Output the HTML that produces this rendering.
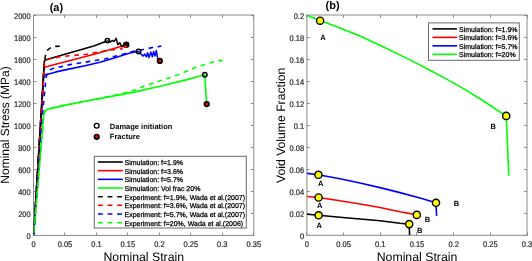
<!DOCTYPE html>
<html><head><meta charset="utf-8"><style>
html,body{margin:0;padding:0;background:#fff;width:532px;height:261px;overflow:hidden}
svg{display:block;will-change:transform} text{text-rendering:geometricPrecision}
</style></head><body>
<svg width="532" height="261" viewBox="0 0 532 261">
<g font-family='"Liberation Sans", sans-serif'>
<rect x="33.5" y="15.0" width="220.3" height="220.4" fill="none" stroke="#8a8a8a" stroke-width="1"/>
<path d="M33.5 235.4v-2.8M33.5 15.0v2.8M64.5 235.4v-2.8M64.5 15.0v2.8M96.5 235.4v-2.8M96.5 15.0v2.8M127.5 235.4v-2.8M127.5 15.0v2.8M159.5 235.4v-2.8M159.5 15.0v2.8M190.5 235.4v-2.8M190.5 15.0v2.8M222.5 235.4v-2.8M222.5 15.0v2.8M253.5 235.4v-2.8M253.5 15.0v2.8M33.5 235.5h2.8M253.8 235.5h-2.8M33.5 213.5h2.8M253.8 213.5h-2.8M33.5 191.5h2.8M253.8 191.5h-2.8M33.5 169.5h2.8M253.8 169.5h-2.8M33.5 147.5h2.8M253.8 147.5h-2.8M33.5 125.5h2.8M253.8 125.5h-2.8M33.5 103.5h2.8M253.8 103.5h-2.8M33.5 81.5h2.8M253.8 81.5h-2.8M33.5 59.5h2.8M253.8 59.5h-2.8M33.5 37.5h2.8M253.8 37.5h-2.8M33.5 15.5h2.8M253.8 15.5h-2.8" stroke="#8a8a8a" stroke-width="1" fill="none"/>
<text transform="translate(33.5 246.9) scale(1 1.1)" font-size="7.5" text-anchor="middle" fill="#2a2a2a" stroke="#2a2a2a" stroke-width="0.2">0</text>
<text transform="translate(64.97 246.9) scale(1 1.1)" font-size="7.5" text-anchor="middle" fill="#2a2a2a" stroke="#2a2a2a" stroke-width="0.2">0.05</text>
<text transform="translate(96.44 246.9) scale(1 1.1)" font-size="7.5" text-anchor="middle" fill="#2a2a2a" stroke="#2a2a2a" stroke-width="0.2">0.1</text>
<text transform="translate(127.91 246.9) scale(1 1.1)" font-size="7.5" text-anchor="middle" fill="#2a2a2a" stroke="#2a2a2a" stroke-width="0.2">0.15</text>
<text transform="translate(159.39 246.9) scale(1 1.1)" font-size="7.5" text-anchor="middle" fill="#2a2a2a" stroke="#2a2a2a" stroke-width="0.2">0.2</text>
<text transform="translate(190.86 246.9) scale(1 1.1)" font-size="7.5" text-anchor="middle" fill="#2a2a2a" stroke="#2a2a2a" stroke-width="0.2">0.25</text>
<text transform="translate(222.33 246.9) scale(1 1.1)" font-size="7.5" text-anchor="middle" fill="#2a2a2a" stroke="#2a2a2a" stroke-width="0.2">0.3</text>
<text transform="translate(253.8 246.9) scale(1 1.1)" font-size="7.5" text-anchor="middle" fill="#2a2a2a" stroke="#2a2a2a" stroke-width="0.2">0.35</text>
<text transform="translate(30.7 239) scale(1 1.1)" font-size="7.5" text-anchor="end" fill="#2a2a2a" stroke="#2a2a2a" stroke-width="0.2">0</text>
<text transform="translate(30.7 216.96) scale(1 1.1)" font-size="7.5" text-anchor="end" fill="#2a2a2a" stroke="#2a2a2a" stroke-width="0.2">200</text>
<text transform="translate(30.7 194.92) scale(1 1.1)" font-size="7.5" text-anchor="end" fill="#2a2a2a" stroke="#2a2a2a" stroke-width="0.2">400</text>
<text transform="translate(30.7 172.88) scale(1 1.1)" font-size="7.5" text-anchor="end" fill="#2a2a2a" stroke="#2a2a2a" stroke-width="0.2">600</text>
<text transform="translate(30.7 150.84) scale(1 1.1)" font-size="7.5" text-anchor="end" fill="#2a2a2a" stroke="#2a2a2a" stroke-width="0.2">800</text>
<text transform="translate(30.7 128.8) scale(1 1.1)" font-size="7.5" text-anchor="end" fill="#2a2a2a" stroke="#2a2a2a" stroke-width="0.2">1000</text>
<text transform="translate(30.7 106.76) scale(1 1.1)" font-size="7.5" text-anchor="end" fill="#2a2a2a" stroke="#2a2a2a" stroke-width="0.2">1200</text>
<text transform="translate(30.7 84.72) scale(1 1.1)" font-size="7.5" text-anchor="end" fill="#2a2a2a" stroke="#2a2a2a" stroke-width="0.2">1400</text>
<text transform="translate(30.7 62.68) scale(1 1.1)" font-size="7.5" text-anchor="end" fill="#2a2a2a" stroke="#2a2a2a" stroke-width="0.2">1600</text>
<text transform="translate(30.7 40.64) scale(1 1.1)" font-size="7.5" text-anchor="end" fill="#2a2a2a" stroke="#2a2a2a" stroke-width="0.2">1800</text>
<text transform="translate(30.7 18.6) scale(1 1.1)" font-size="7.5" text-anchor="end" fill="#2a2a2a" stroke="#2a2a2a" stroke-width="0.2">2000</text>
<rect x="306.9" y="15.0" width="220.10000000000002" height="220.3" fill="none" stroke="#8a8a8a" stroke-width="1"/>
<path d="M306.5 235.3v-2.8M306.5 15.0v2.8M343.5 235.3v-2.8M343.5 15.0v2.8M380.5 235.3v-2.8M380.5 15.0v2.8M416.5 235.3v-2.8M416.5 15.0v2.8M453.5 235.3v-2.8M453.5 15.0v2.8M490.5 235.3v-2.8M490.5 15.0v2.8M527.5 235.3v-2.8M527.5 15.0v2.8M306.9 235.5h2.8M527.0 235.5h-2.8M306.9 213.5h2.8M527.0 213.5h-2.8M306.9 191.5h2.8M527.0 191.5h-2.8M306.9 169.5h2.8M527.0 169.5h-2.8M306.9 147.5h2.8M527.0 147.5h-2.8M306.9 125.5h2.8M527.0 125.5h-2.8M306.9 103.5h2.8M527.0 103.5h-2.8M306.9 81.5h2.8M527.0 81.5h-2.8M306.9 59.5h2.8M527.0 59.5h-2.8M306.9 37.5h2.8M527.0 37.5h-2.8M306.9 15.5h2.8M527.0 15.5h-2.8" stroke="#8a8a8a" stroke-width="1" fill="none"/>
<text transform="translate(306.9 246.9) scale(1 1.1)" font-size="7.5" text-anchor="middle" fill="#2a2a2a" stroke="#2a2a2a" stroke-width="0.2">0</text>
<text transform="translate(343.58 246.9) scale(1 1.1)" font-size="7.5" text-anchor="middle" fill="#2a2a2a" stroke="#2a2a2a" stroke-width="0.2">0.05</text>
<text transform="translate(380.27 246.9) scale(1 1.1)" font-size="7.5" text-anchor="middle" fill="#2a2a2a" stroke="#2a2a2a" stroke-width="0.2">0.1</text>
<text transform="translate(416.95 246.9) scale(1 1.1)" font-size="7.5" text-anchor="middle" fill="#2a2a2a" stroke="#2a2a2a" stroke-width="0.2">0.15</text>
<text transform="translate(453.63 246.9) scale(1 1.1)" font-size="7.5" text-anchor="middle" fill="#2a2a2a" stroke="#2a2a2a" stroke-width="0.2">0.2</text>
<text transform="translate(490.32 246.9) scale(1 1.1)" font-size="7.5" text-anchor="middle" fill="#2a2a2a" stroke="#2a2a2a" stroke-width="0.2">0.25</text>
<text transform="translate(527 246.9) scale(1 1.1)" font-size="7.5" text-anchor="middle" fill="#2a2a2a" stroke="#2a2a2a" stroke-width="0.2">0.3</text>
<text transform="translate(304.1 238.9) scale(1 1.1)" font-size="7.5" text-anchor="end" fill="#2a2a2a" stroke="#2a2a2a" stroke-width="0.2">0</text>
<text transform="translate(304.1 216.87) scale(1 1.1)" font-size="7.5" text-anchor="end" fill="#2a2a2a" stroke="#2a2a2a" stroke-width="0.2">0.02</text>
<text transform="translate(304.1 194.84) scale(1 1.1)" font-size="7.5" text-anchor="end" fill="#2a2a2a" stroke="#2a2a2a" stroke-width="0.2">0.04</text>
<text transform="translate(304.1 172.81) scale(1 1.1)" font-size="7.5" text-anchor="end" fill="#2a2a2a" stroke="#2a2a2a" stroke-width="0.2">0.06</text>
<text transform="translate(304.1 150.78) scale(1 1.1)" font-size="7.5" text-anchor="end" fill="#2a2a2a" stroke="#2a2a2a" stroke-width="0.2">0.08</text>
<text transform="translate(304.1 128.75) scale(1 1.1)" font-size="7.5" text-anchor="end" fill="#2a2a2a" stroke="#2a2a2a" stroke-width="0.2">0.1</text>
<text transform="translate(304.1 106.72) scale(1 1.1)" font-size="7.5" text-anchor="end" fill="#2a2a2a" stroke="#2a2a2a" stroke-width="0.2">0.12</text>
<text transform="translate(304.1 84.69) scale(1 1.1)" font-size="7.5" text-anchor="end" fill="#2a2a2a" stroke="#2a2a2a" stroke-width="0.2">0.14</text>
<text transform="translate(304.1 62.66) scale(1 1.1)" font-size="7.5" text-anchor="end" fill="#2a2a2a" stroke="#2a2a2a" stroke-width="0.2">0.16</text>
<text transform="translate(304.1 40.63) scale(1 1.1)" font-size="7.5" text-anchor="end" fill="#2a2a2a" stroke="#2a2a2a" stroke-width="0.2">0.18</text>
<text transform="translate(304.1 18.6) scale(1 1.1)" font-size="7.5" text-anchor="end" fill="#2a2a2a" stroke="#2a2a2a" stroke-width="0.2">0.2</text>
<text x="143.8" y="260.6" font-size="12.3" text-anchor="middle" fill="#000">Nominal Strain</text>
<text x="417" y="260.6" font-size="12.3" text-anchor="middle" fill="#000">Nominal Strain</text>
<text transform="translate(9.1 125) rotate(-90)" font-size="12" text-anchor="middle" fill="#000">Nominal Stress (MPa)</text>
<text transform="translate(284.6 125.4) rotate(-90)" font-size="12.2" text-anchor="middle" fill="#000">Void Volume Fraction</text>
<text x="49.7" y="10.9" font-size="11" font-weight="bold" fill="#000">(a)</text>
<text x="325.5" y="8.6" font-size="11" font-weight="bold" fill="#000">(b)</text>
<clipPath id="cl"><rect x="33.5" y="15.0" width="220.3" height="220.4"/></clipPath>
<g clip-path="url(#cl)">
<polyline points="33.6,235.4 44,69.5 44.8,67.3 50,65.8 75,59.2 95,53.9 100,52.4 120,46.7 123.5,46.6" fill="none" stroke="#ff0000" stroke-width="1.6" stroke-linejoin="round"/>
<polyline points="33.6,235.4 43.6,77.5 45.1,75 56,71.9 70,68.9 85,65.7 100,62.2 115,57.8 130,53 136,51.6 138.6,51.5" fill="none" stroke="#0000ff" stroke-width="1.6" stroke-linejoin="round"/>
<polyline points="33.6,235.4 44.3,61.5 45.2,59.9 64,54.6 85,48.5 94.5,45.8 105,41.8 107.4,41" fill="none" stroke="#000000" stroke-width="1.6" stroke-linejoin="round"/>
<polyline points="33.6,235.4 43.8,114 45.1,111 47,109.6 50.2,108.6 64,105.4 85,101.3 110,96.6 135,91.9 160,86.3 185,80.1 204.8,74.8 206.6,104.1" fill="none" stroke="#00ff00" stroke-width="1.6" stroke-linejoin="round"/>
<polyline points="107.4,40.6 110.1,42.1 112.3,40.5 114.1,41.4 116.1,38.3 117.8,44.8 119.7,42.7 121.5,46.2 126.2,44.6" fill="none" stroke="#000000" stroke-width="1.5" stroke-linejoin="round"/>
<polyline points="138.4,51.5 140.5,53.5 142.9,56.1 144.6,54 146.3,56.8 147.6,52.8 148.9,57.5 150.9,52.1 152.3,56.8 153.6,51.5 155,56.1 156.3,50.6 157.7,58.2 159.8,60.9" fill="none" stroke="#0000ff" stroke-width="1.5" stroke-linejoin="round"/>
<polyline points="33.6,235.4 44.2,63.5 45.5,55 46.5,52.3 47.5,50.2 50.2,48 52.5,47 55.4,46.4 59.9,46.2" fill="none" stroke="#000000" stroke-width="1.6" stroke-linejoin="round" stroke-dasharray="4.6 4.6" stroke-dashoffset="7.61"/>
<polyline points="33.6,235.4 44.6,62 45.8,59.7 47.5,59.4 60,56.8 67.3,56 86.5,54.2 95,52.6 113.5,49.8 122.7,48.6" fill="none" stroke="#ff0000" stroke-width="1.6" stroke-linejoin="round" stroke-dasharray="4.6 4.6" stroke-dashoffset="6.43"/>
<polyline points="33.6,235.4 37.2,188 42,120 45.3,85 46.2,77 47.5,72.5 49.5,70 53.5,68.3 70,64.6 80,63 90,61.4 97,60.2 105.8,58.7 115,56.3 124.2,53.9 132.7,51.5 143.3,49.5 152.5,47.5 161.3,46.1" fill="none" stroke="#0000ff" stroke-width="1.6" stroke-linejoin="round" stroke-dasharray="4.6 4.6" stroke-dashoffset="7.66"/>
<polyline points="33.6,235.4 43.8,114 45.1,111 47,109.6 50.2,108.6 64,105.4 85,101.3 110,96.3 125,92.8 135,89.9 142,87 150.5,84 160.2,80.8 168.8,77.9 178,74.7 185.8,71.5 194.4,67.9 203.2,65 212.2,62.2 216.5,61 219.1,60.3 221.2,60.6 222.8,61.7" fill="none" stroke="#00ff00" stroke-width="1.6" stroke-linejoin="round" stroke-dasharray="4.6 4.6" stroke-dashoffset="6.71"/>
</g>
<circle cx="107.4" cy="40.6" r="2.2" fill="none" stroke="#000" stroke-width="1.5"/>
<circle cx="138.6" cy="51.5" r="2.2" fill="none" stroke="#000" stroke-width="1.5"/>
<circle cx="204.8" cy="74.7" r="2.2" fill="none" stroke="#000" stroke-width="1.5"/>
<circle cx="126.2" cy="44.7" r="3.3" fill="#000000" stroke="#000" stroke-width="0"/>
<circle cx="125.5" cy="46.4" r="1.5" fill="#ff0000" stroke="#000" stroke-width="0"/>
<circle cx="159.8" cy="60.9" r="2.3" fill="#ff0000" stroke="#000" stroke-width="1.7"/>
<circle cx="206.7" cy="104.1" r="2.3" fill="#ff0000" stroke="#000" stroke-width="1.7"/>
<circle cx="96.7" cy="125.8" r="2.4" fill="#fff" stroke="#000" stroke-width="1.3"/>
<circle cx="96.7" cy="136.8" r="2.3" fill="#ff0000" stroke="#000" stroke-width="1.7"/>
<text x="109.8" y="128.8" font-size="7.5" font-weight="bold" fill="#000">Damage initiation</text>
<text x="109.8" y="139.4" font-size="7.5" font-weight="bold" fill="#000">Fracture</text>
<rect x="94.3" y="156.3" width="152" height="71.7" fill="#fff" stroke="#6a6a6a" stroke-width="1"/>
<line x1="97.8" y1="162" x2="122.8" y2="162" stroke="#000000" stroke-width="1.6"/>
<text x="124.5" y="165" font-size="7" fill="#000" stroke="#000" stroke-width="0.25">Simulation: f=1.9%</text>
<line x1="97.8" y1="170.67" x2="122.8" y2="170.67" stroke="#ff0000" stroke-width="1.6"/>
<text x="124.5" y="173.67" font-size="7" fill="#000" stroke="#000" stroke-width="0.25">Simulation: f=3.6%</text>
<line x1="97.8" y1="179.34" x2="122.8" y2="179.34" stroke="#0000ff" stroke-width="1.6"/>
<text x="124.5" y="182.34" font-size="7" fill="#000" stroke="#000" stroke-width="0.25">Simulation: f=5.7%</text>
<line x1="97.8" y1="188.01" x2="122.8" y2="188.01" stroke="#00ff00" stroke-width="1.6"/>
<text x="124.5" y="191.01" font-size="7" fill="#000" stroke="#000" stroke-width="0.25">Simulation: Vol frac 20%</text>
<line x1="98" y1="196.68" x2="122.2" y2="196.68" stroke="#000000" stroke-width="1.5" stroke-dasharray="4.8 4.8"/>
<text x="124.5" y="199.68" font-size="7" fill="#000" stroke="#000" stroke-width="0.25">Experiment: f=1.9%, Wada et al.(2007)</text>
<line x1="98" y1="205.35" x2="122.2" y2="205.35" stroke="#ff0000" stroke-width="1.5" stroke-dasharray="4.8 4.8"/>
<text x="124.5" y="208.35" font-size="7" fill="#000" stroke="#000" stroke-width="0.25">Experiment: f=3.6%, Wada et al.(2007)</text>
<line x1="98" y1="214.02" x2="122.2" y2="214.02" stroke="#0000ff" stroke-width="1.5" stroke-dasharray="4.8 4.8"/>
<text x="124.5" y="217.02" font-size="7" fill="#000" stroke="#000" stroke-width="0.25">Experiment: f=5.7%, Wada et al.(2007)</text>
<line x1="98" y1="222.69" x2="122.2" y2="222.69" stroke="#00ff00" stroke-width="1.5" stroke-dasharray="4.8 4.8"/>
<text x="124.5" y="225.69" font-size="7" fill="#000" stroke="#000" stroke-width="0.25">Experiment: f=20%, Wada et al.(2006)</text>
<clipPath id="cr"><rect x="306.9" y="15.0" width="220.10000000000002" height="220.3"/></clipPath>
<g clip-path="url(#cr)">
<polyline points="307.1,15.4 320.1,20.5 340,28 360,35.9 378.3,44.4 410,59.9 430,70.3 443.9,77.6 464.4,89.1 485,102 506.2,115.9 508.8,175.7" fill="none" stroke="#00ff00" stroke-width="1.6" stroke-linejoin="round"/>
<polyline points="307.1,173.4 318.2,174.8 340,178.8 360,183 380,187.6 400,192.6 420,198 436,202.8 436.6,215.9" fill="none" stroke="#0000ff" stroke-width="1.6" stroke-linejoin="round"/>
<polyline points="307.1,196.5 318.6,197.5 340,200.7 360,204 380,207.5 400,211.8 416.8,214.9" fill="none" stroke="#ff0000" stroke-width="1.6" stroke-linejoin="round"/>
<polyline points="307.1,214.3 318.6,215.3 340,217.2 360,219 380,220.8 400,223.3 409.2,224.1 409.6,235.3" fill="none" stroke="#000000" stroke-width="1.6" stroke-linejoin="round"/>
</g>
<circle cx="320.1" cy="20.7" r="3.6" fill="#ffff00" stroke="#000" stroke-width="1.4"/>
<circle cx="318.4" cy="174.8" r="3.6" fill="#ffff00" stroke="#000" stroke-width="1.4"/>
<circle cx="318.6" cy="197.5" r="3.6" fill="#ffff00" stroke="#000" stroke-width="1.4"/>
<circle cx="318.6" cy="215.3" r="3.6" fill="#ffff00" stroke="#000" stroke-width="1.4"/>
<circle cx="506.2" cy="115.9" r="3.6" fill="#ffff00" stroke="#000" stroke-width="1.4"/>
<circle cx="436" cy="202.8" r="3.6" fill="#ffff00" stroke="#000" stroke-width="1.4"/>
<circle cx="416.8" cy="214.9" r="3.6" fill="#ffff00" stroke="#000" stroke-width="1.4"/>
<circle cx="409.2" cy="224.1" r="3.6" fill="#ffff00" stroke="#000" stroke-width="1.4"/>
<text x="323" y="39.9" font-size="7.5" font-weight="bold" text-anchor="middle" fill="#000">A</text>
<text x="320.7" y="186.1" font-size="7.5" font-weight="bold" text-anchor="middle" fill="#000">A</text>
<text x="319.8" y="207.8" font-size="7.5" font-weight="bold" text-anchor="middle" fill="#000">A</text>
<text x="319.2" y="227.9" font-size="7.5" font-weight="bold" text-anchor="middle" fill="#000">A</text>
<text x="493.2" y="128.5" font-size="7.5" font-weight="bold" text-anchor="middle" fill="#000">B</text>
<text x="456.5" y="205.7" font-size="7.5" font-weight="bold" text-anchor="middle" fill="#000">B</text>
<text x="427.4" y="222.4" font-size="7.5" font-weight="bold" text-anchor="middle" fill="#000">B</text>
<text x="419.7" y="232.9" font-size="7.5" font-weight="bold" text-anchor="middle" fill="#000">B</text>
<rect x="428.5" y="22.9" width="90.8" height="37.4" fill="#fff" stroke="#6a6a6a" stroke-width="1"/>
<line x1="432.5" y1="28.9" x2="457" y2="28.9" stroke="#000000" stroke-width="1.6"/>
<text x="459" y="31.9" font-size="7" fill="#000" stroke="#000" stroke-width="0.25">Simulation: f=1.9%</text>
<line x1="432.5" y1="37.37" x2="457" y2="37.37" stroke="#ff0000" stroke-width="1.6"/>
<text x="459" y="40.37" font-size="7" fill="#000" stroke="#000" stroke-width="0.25">Simulation: f=3.6%</text>
<line x1="432.5" y1="45.84" x2="457" y2="45.84" stroke="#0000ff" stroke-width="1.6"/>
<text x="459" y="48.84" font-size="7" fill="#000" stroke="#000" stroke-width="0.25">Simulation: f=5.7%</text>
<line x1="432.5" y1="54.31" x2="457" y2="54.31" stroke="#00ff00" stroke-width="1.6"/>
<text x="459" y="57.31" font-size="7" fill="#000" stroke="#000" stroke-width="0.25">Simulation: f=20%</text>
</g></svg>
</body></html>
